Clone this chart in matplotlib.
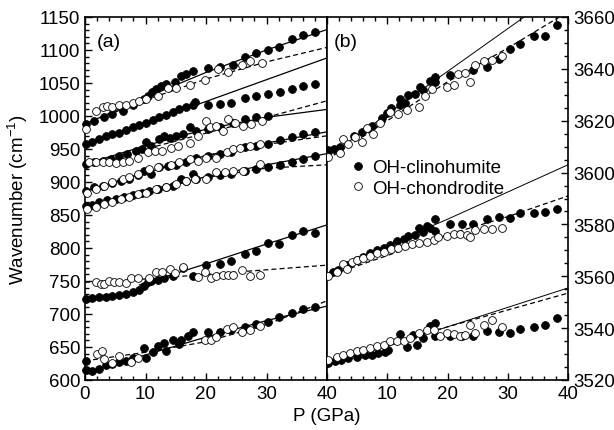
import numpy as np
import matplotlib
matplotlib.use('Agg')
import matplotlib.pyplot as plt
from matplotlib.ticker import MultipleLocator

plt.rcParams['font.family'] = ['Liberation Sans', 'DejaVu Sans']
plt.rcParams['mathtext.fontset'] = 'custom'
plt.rcParams['mathtext.rm'] = 'Liberation Sans'
plt.rcParams['mathtext.it'] = 'Liberation Sans:italic'

# ---------------- panel (a) data ----------------
p_a1_cl = [0.1, 1.5, 3.2, 4.5, 6.2, 7.9, 9.8, 10.4, 11.0, 11.7, 12.6, 13.4, 14.8, 15.9, 16.7, 17.8, 20.3, 22.3, 24.5, 26.4, 28.3, 30.3, 32.0, 34.2, 36.1, 38.0]
w_a1_cl = [988, 992, 998, 1003, 1008, 1016, 1026, 1030, 1036, 1041, 1045, 1048, 1052, 1060, 1064, 1068, 1072, 1074, 1077, 1089, 1096, 1100, 1104, 1117, 1123, 1127]
p_a1_ch = [0.1, 1.8, 2.9, 3.7, 4.5, 5.6, 6.8, 7.9, 9.0, 10.1, 12.0, 13.7, 15.1, 17.3, 19.8, 22.0, 23.6, 25.9, 27.2, 29.2]
w_a1_ch = [980, 1008, 1013, 1015, 1014, 1016, 1017, 1020, 1023, 1026, 1031, 1043, 1042, 1047, 1054, 1071, 1067, 1077, 1084, 1080]

p_a2_cl = [0.1, 1.2, 2.3, 3.4, 4.5, 5.6, 6.8, 7.9, 9.0, 10.1, 11.2, 12.3, 13.4, 14.5, 15.6, 16.7, 17.8, 18.1, 20.3, 22.3, 24.2, 26.4, 28.3, 30.3, 32.2, 34.2, 36.1, 38.0]
w_a2_cl = [958, 961, 965, 969, 973, 975, 979, 983, 986, 990, 994, 998, 1002, 1006, 1010, 1013, 1017, 1021, 1017, 1018, 1020, 1027, 1031, 1033, 1036, 1041, 1045, 1048]

p_a3_cl = [0.1, 1.5, 2.9, 4.3, 5.6, 7.0, 8.4, 9.5, 10.1, 10.9, 12.3, 13.1, 14.0, 15.1, 16.2, 17.3, 18.4, 20.3, 22.3, 24.5, 26.4, 28.3, 30.3]
w_a3_cl = [927, 930, 932, 935, 940, 942, 947, 950, 961, 955, 965, 969, 966, 970, 973, 983, 978, 980, 983, 989, 996, 998, 1000]
p_a3_ch = [0.7, 1.8, 2.9, 4.0, 5.1, 6.2, 7.3, 8.7, 10.4, 11.5, 12.8, 14.2, 15.3, 17.3, 18.7, 20.0, 20.6, 21.7, 22.8, 23.6, 24.8, 26.1, 27.5, 29.2]
w_a3_ch = [930, 931, 931, 930, 929, 930, 932, 937, 945, 947, 947, 952, 955, 959, 970, 993, 983, 985, 978, 995, 990, 985, 988, 993]

p_a4_cl = [0.1, 1.5, 2.9, 4.5, 5.9, 7.3, 8.7, 9.8, 10.9, 12.3, 13.7, 15.1, 16.7, 18.4, 20.3, 22.3, 24.2, 26.4, 28.3, 30.3, 32.2, 34.2, 36.1, 38.0]
w_a4_cl = [887, 892, 894, 899, 902, 905, 910, 917, 912, 922, 925, 926, 931, 936, 940, 942, 945, 953, 955, 958, 963, 968, 973, 976]
p_a4_ch = [0.4, 1.8, 3.2, 4.5, 6.2, 7.3, 8.7, 10.6, 12.0, 14.2, 15.6, 17.3, 18.7, 20.0, 21.7, 23.4, 24.5, 25.6, 27.2, 28.9]
w_a4_ch = [884, 889, 894, 900, 905, 907, 912, 920, 922, 926, 930, 935, 932, 936, 937, 945, 950, 952, 955, 957]

p_a5_cl = [0.1, 1.2, 2.3, 3.7, 5.1, 6.5, 7.9, 9.5, 10.6, 12.0, 13.4, 14.5, 15.9, 16.7, 17.8, 18.4, 20.3, 22.3, 24.2, 26.4, 28.3, 30.3, 32.2, 34.2, 36.1, 38.0]
w_a5_cl = [864, 865, 869, 872, 875, 878, 880, 884, 887, 890, 892, 894, 905, 902, 912, 905, 907, 910, 912, 916, 920, 922, 926, 930, 935, 940]
p_a5_ch = [0.4, 1.8, 3.2, 4.5, 5.9, 7.3, 8.7, 10.1, 11.7, 13.4, 15.1, 16.7, 18.1, 20.0, 21.7, 23.1, 24.5, 26.1, 28.9]
w_a5_ch = [859, 862, 867, 869, 874, 877, 882, 884, 889, 893, 897, 902, 905, 905, 915, 915, 916, 917, 927]

p_a6_cl = [0.1, 1.2, 2.3, 3.4, 4.5, 5.6, 6.8, 7.9, 9.0, 9.8, 10.4, 10.9, 12.0, 13.1, 14.5, 16.2, 17.8, 20.0, 22.3, 24.2, 26.4, 28.3, 30.3, 32.0, 34.2, 36.1, 38.0]
w_a6_cl = [723, 724, 725, 726, 728, 729, 731, 734, 737, 743, 748, 750, 751, 754, 757, 769, 757, 774, 776, 781, 791, 796, 808, 806, 820, 826, 822]
p_a6_ch = [1.8, 2.6, 3.2, 4.0, 4.8, 5.6, 6.8, 7.6, 8.7, 10.6, 11.7, 12.8, 14.0, 14.8, 16.2, 18.7, 19.8, 20.9, 21.7, 22.8, 23.6, 24.5, 25.9, 27.2, 28.9]
w_a6_ch = [748, 745, 745, 750, 749, 748, 747, 754, 754, 754, 764, 764, 768, 762, 771, 756, 763, 754, 757, 759, 759, 759, 766, 758, 759]

p_a7_cl = [0.1, 0.1, 1.2, 2.3, 3.4, 4.5, 5.6, 6.8, 7.9, 9.8, 10.1, 11.2, 12.0, 13.1, 13.4, 14.5, 15.6, 15.9, 17.0, 17.8, 20.3, 22.3, 24.2, 26.4, 28.3, 30.3, 32.0, 34.2, 36.1, 38.0]
w_a7_cl = [615, 629, 614, 616, 622, 624, 627, 629, 633, 649, 633, 643, 652, 656, 644, 660, 654, 660, 667, 672, 673, 672, 676, 681, 685, 688, 695, 702, 707, 710]
p_a7_ch = [2.0, 2.8, 3.2, 4.5, 5.6, 7.6, 8.7, 19.8, 20.9, 21.7, 23.4, 24.5, 25.9, 27.2, 28.9]
w_a7_ch = [639, 644, 632, 626, 636, 627, 633, 660, 660, 665, 677, 680, 672, 675, 682]

# fit curves read at P = 0, 10, 20, 30, 40
fit_p = [0, 10, 20, 30, 40]
fit_a_cl = [[988, 1028, 1066, 1100, 1131],
            [958, 990, 1022, 1055, 1088],
            [927, 955, 980, 998, 1010],
            [886, 914, 940, 959, 976],
            [863, 886, 908, 926, 943],
            [611, 638, 665, 690, 712]]
fit_a_ch = [[988, 1024, 1056, 1082, 1104],
            [927, 950, 974, 998, 1023],
            [886, 915, 940, 957, 970],
            [863, 887, 907, 921, 926],
            [748, 753, 760, 767, 774],
            [629, 642, 658, 684, 720]]
fit_p6 = [9, 20, 30, 40]
fit_a6_cl = [744, 776, 806, 835]

# ---------------- panel (b) data ----------------
p_b1_cl = [0.2, 1.1, 2.2, 4.4, 5.8, 7.4, 9.1, 9.9, 10.7, 12.1, 12.1, 13.0, 13.5, 14.6, 15.4, 16.0, 17.1, 17.9, 17.9, 20.4, 24.3, 26.5, 28.5, 30.4, 32.1, 34.3, 36.2, 38.2]
w_b1_cl = [3608.6, 3609, 3610, 3614, 3615.6, 3618, 3621, 3623, 3625, 3628.5, 3626, 3627, 3630, 3630.4, 3633, 3631.7, 3635.5, 3637, 3635, 3637.7, 3639.7, 3640.6, 3643.8, 3647.7, 3649.6, 3652.8, 3652.8, 3657]
p_b1_ch = [0.2, 2.2, 2.7, 3.5, 4.7, 5.8, 6.6, 7.7, 8.8, 10.5, 11.8, 13.2, 15.2, 16.3, 17.4, 19.9, 21.0, 21.8, 22.9, 23.8, 24.6, 26.0, 27.4, 29.0]
w_b1_ch = [3606, 3607.7, 3613, 3611, 3613.7, 3611.8, 3617, 3615, 3619, 3623.3, 3622.7, 3624, 3625.3, 3629.7, 3632.3, 3633, 3633.6, 3638, 3638.5, 3635, 3641.3, 3643.2, 3643.6, 3645]

p_b2_cl = [1.05, 1.9, 3.3, 4.9, 6.0, 7.1, 8.3, 9.4, 10.5, 11.6, 12.7, 13.5, 14.6, 15.2, 16.0, 16.6, 17.1, 17.9, 17.9, 20.4, 22.4, 24.3, 26.5, 28.5, 30.4, 32.1, 34.3, 36.2, 38.2]
w_b2_cl = [3561.8, 3562.4, 3564.4, 3566.3, 3567.6, 3568.8, 3570, 3571, 3572, 3573.6, 3574.4, 3575.6, 3576, 3578.7, 3577, 3579.5, 3578.5, 3577.4, 3582, 3580, 3580, 3580, 3582, 3583, 3582.3, 3584.6, 3584.6, 3584.9, 3586]
p_b2_ch = [0.2, 1.6, 2.7, 3.3, 4.1, 4.9, 6.0, 7.1, 8.3, 9.4, 10.7, 11.8, 13.0, 14.1, 15.2, 16.6, 17.7, 18.5, 19.9, 21.0, 22.1, 23.2, 23.8, 24.6, 26.0, 27.4, 29.0]
w_b2_ch = [3560.3, 3561.5, 3564.6, 3563, 3565.6, 3566.3, 3567, 3568, 3568.8, 3569.5, 3570.5, 3571, 3571.8, 3572.3, 3573, 3573.3, 3574, 3575.3, 3575.6, 3576.5, 3576.5, 3576, 3575.3, 3577.8, 3578.2, 3578.2, 3578.5]

p_b3_cl = [0.2, 1.3, 2.4, 3.5, 4.9, 6.3, 7.4, 8.5, 9.6, 10.2, 12.1, 13.2, 14.3, 14.9, 16.0, 17.1, 17.9, 17.9, 20.4, 22.4, 24.3, 26.5, 28.5, 30.4, 32.1, 34.3, 36.2, 38.2]
w_b3_cl = [3526.5, 3527.2, 3527.8, 3528.5, 3528.7, 3529.5, 3529.7, 3530.4, 3530.8, 3531.7, 3537.7, 3532.6, 3537.4, 3533.6, 3536.2, 3541, 3542, 3536.8, 3536.8, 3536.8, 3536.8, 3539, 3538.7, 3538, 3539.7, 3540.6, 3541.3, 3543.8]
p_b3_ch = [0.2, 1.6, 2.7, 3.8, 4.9, 6.0, 7.1, 8.3, 9.4, 10.5, 11.6, 12.7, 13.8, 15.2, 16.6, 17.7, 18.8, 19.9, 21.0, 22.1, 22.9, 23.8, 24.6, 26.0, 27.4, 29.0]
w_b3_ch = [3527.8, 3528.7, 3529.7, 3530.4, 3531, 3531.7, 3532.3, 3533, 3533.6, 3534.9, 3535.1, 3535.1, 3536.2, 3538, 3539.4, 3539.4, 3536.8, 3538, 3537.7, 3536.8, 3537.2, 3541.3, 3538, 3541.3, 3543.2, 3540.3]

fit_b_cl = [[3606, 3622.5, 3639, 3655.5, 3672],
            [3561, 3572, 3582, 3592.5, 3603],
            [3526, 3533, 3540.5, 3548, 3555.5]]
fit_b_ch = [[3605, 3620, 3635, 3648, 3662],
            [3560, 3568, 3576, 3583, 3591],
            [3527, 3534, 3540.5, 3547, 3553.5]]

ms = 5.6
fs = 13.5

fig = plt.figure(figsize=(6.14, 4.31), dpi=100)
ax = fig.add_axes([85/614, 1-381/431, 242/614, 363/431])
ax2 = fig.add_axes([327/614, 1-381/431, 241/614, 363/431])

# panel (a)
for f in fit_a_cl:
    ax.plot(fit_p, f, color='black', lw=0.9, zorder=2)
ax.plot(fit_p6, fit_a6_cl, color='black', lw=0.9, zorder=2)
for f in fit_a_ch:
    ax.plot(fit_p, f, color='black', lw=0.9, ls=(0, (4, 2.5)), zorder=2)

for p, w in [(p_a1_cl, w_a1_cl), (p_a2_cl, w_a2_cl), (p_a3_cl, w_a3_cl), (p_a4_cl, w_a4_cl),
             (p_a5_cl, w_a5_cl), (p_a6_cl, w_a6_cl), (p_a7_cl, w_a7_cl)]:
    ax.plot(p, w, 'o', color='black', ms=ms, mew=0.6, zorder=3, clip_on=False)
for p, w in [(p_a1_ch, w_a1_ch), (p_a3_ch, w_a3_ch), (p_a4_ch, w_a4_ch),
             (p_a5_ch, w_a5_ch), (p_a6_ch, w_a6_ch), (p_a7_ch, w_a7_ch)]:
    ax.plot(p, w, 'o', mfc='white', mec='black', ms=ms, mew=0.6, zorder=4, clip_on=False)

ax.set_xlim(0, 40)
ax.set_ylim(600, 1150)
ax.xaxis.set_major_locator(MultipleLocator(10))
ax.xaxis.set_minor_locator(MultipleLocator(2))
ax.yaxis.set_major_locator(MultipleLocator(50))
ax.yaxis.set_minor_locator(MultipleLocator(10))
ax.tick_params(which='both', direction='in', top=True, right=False, labelsize=fs, width=1)
ax.tick_params(which='major', length=5)
ax.tick_params(which='minor', length=3)
ax.set_ylabel('Wavenumber (cm$^{-1}$)', fontsize=fs, labelpad=6)
ax.text(0.05, 0.955, '(a)', transform=ax.transAxes, fontsize=fs + 0.5, va='top')

# panel (b)
for f in fit_b_cl:
    ax2.plot(fit_p, f, color='black', lw=0.7, zorder=2)
for f in fit_b_ch:
    ax2.plot(fit_p, f, color='black', lw=0.9, ls=(0, (4, 2.5)), zorder=2)
ax2.plot(p_b1_cl, w_b1_cl, 'o', color='black', ms=ms, mew=0.6, zorder=3, label='OH-clinohumite')
ax2.plot(p_b2_cl, w_b2_cl, 'o', color='black', ms=ms, mew=0.6, zorder=3)
ax2.plot(p_b3_cl, w_b3_cl, 'o', color='black', ms=ms, mew=0.6, zorder=3)
ax2.plot(p_b1_ch, w_b1_ch, 'o', mfc='white', mec='black', ms=ms, mew=0.6, zorder=4, label='OH-chondrodite')
ax2.plot(p_b2_ch, w_b2_ch, 'o', mfc='white', mec='black', ms=ms, mew=0.6, zorder=4)
ax2.plot(p_b3_ch, w_b3_ch, 'o', mfc='white', mec='black', ms=ms, mew=0.6, zorder=4)

ax2.set_xlim(0, 40)
ax2.set_ylim(3520, 3660)
ax2.set_xticks([0, 10, 20, 30, 40])
ax2.set_xticklabels(['', '10', '20', '30', '40'])
ax2.xaxis.set_minor_locator(MultipleLocator(2))
ax2.yaxis.set_major_locator(MultipleLocator(20))
ax2.yaxis.set_minor_locator(MultipleLocator(5))
ax2.tick_params(which='both', direction='in', top=True, left=False, right=True,
                labelleft=False, labelright=True, labelsize=fs, width=1)
ax2.tick_params(which='major', length=5)
ax2.tick_params(which='minor', length=3)
ax2.text(0.03, 0.955, '(b)', transform=ax2.transAxes, fontsize=fs + 0.5, va='top')
ax2.legend(loc='upper left', bbox_to_anchor=(0.045, 0.645), frameon=False, fontsize=fs,
           handlelength=0.8, handletextpad=0.35, labelspacing=0.2, borderpad=0.2)

for a in (ax, ax2):
    for s in a.spines.values():
        s.set_linewidth(1.2)

fig.text(327/614, 1-417/431, 'P (GPa)', ha='center', va='center', fontsize=fs)

fig.savefig('out.png', dpi=100)
